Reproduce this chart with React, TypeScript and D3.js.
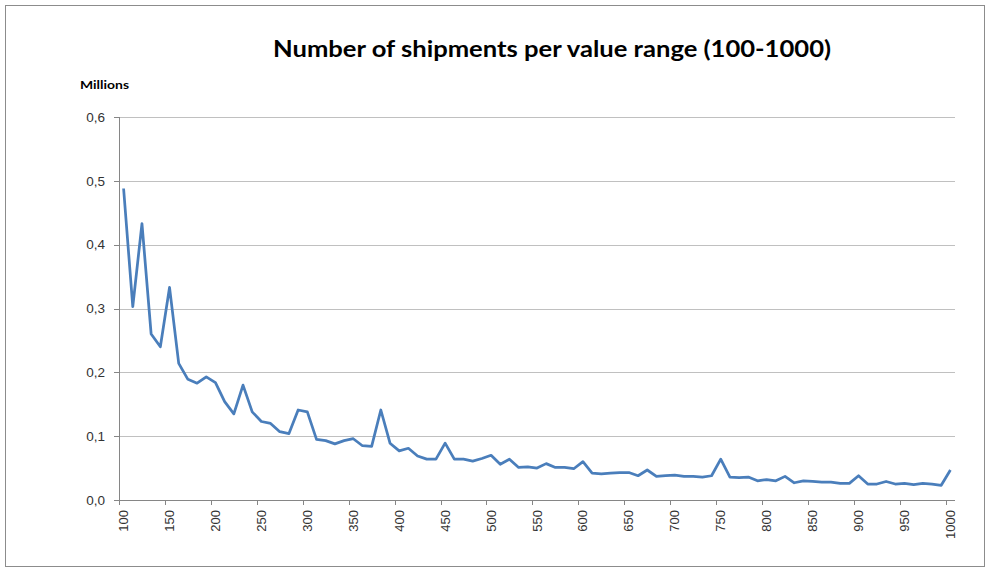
import React from "react";
import * as d3 from "d3";

const categories: string[] = [
  "100","110","120","130","140","150","160","170","180","190",
  "200","210","220","230","240","250","260","270","280","290",
  "300","310","320","330","340","350","360","370","380","390",
  "400","410","420","430","440","450","460","470","480","490",
  "500","510","520","530","540","550","560","570","580","590",
  "600","610","620","630","640","650","660","670","680","690",
  "700","710","720","730","740","750","760","770","780","790",
  "800","810","820","830","840","850","860","870","880","890",
  "900","910","920","930","940","950","960","970","980","990",
  "1000",
];

const shipments: number[] = [
  0.488, 0.303, 0.433, 0.260, 0.240, 0.333, 0.214, 0.189, 0.183, 0.193,
  0.184, 0.154, 0.135, 0.180, 0.138, 0.123, 0.120, 0.107, 0.104, 0.141,
  0.138, 0.095, 0.093, 0.088, 0.093, 0.096, 0.085, 0.084, 0.141, 0.089,
  0.077, 0.081, 0.069, 0.064, 0.064, 0.089, 0.064, 0.064, 0.061, 0.065,
  0.070, 0.056, 0.064, 0.051, 0.052, 0.050, 0.057, 0.051, 0.051, 0.049,
  0.060, 0.042, 0.041, 0.042, 0.043, 0.043, 0.038, 0.047, 0.037, 0.038,
  0.039, 0.037, 0.037, 0.036, 0.038, 0.064, 0.036, 0.035, 0.036, 0.030,
  0.032, 0.030, 0.037, 0.027, 0.030, 0.029, 0.028, 0.028, 0.026, 0.026,
  0.038, 0.025, 0.025, 0.029, 0.025, 0.026, 0.024, 0.026, 0.025, 0.023,
  0.047,
];

const xLabels: string[] = categories.filter((_, i) => i % 5 === 0);
const yTicks: number[] = [0, 0.1, 0.2, 0.3, 0.4, 0.5, 0.6];
const title = "Number of shipments per value range (100-1000)";
const unitLabel = "Millions";

const W = 987;
const H = 570;
const left = 119;
const right = 955;
const top = 117;
const bottom = 500;
const FONT = "'Liberation Sans', Arial, sans-serif";

export default function App() {
  const x = d3.scaleBand<string>().domain(categories).range([left, right]).paddingInner(0).paddingOuter(0);
  const y = d3.scaleLinear().domain([0, 0.6]).range([bottom, top]);
  const cx = (c: string) => (x(c) as number) + x.bandwidth() / 2;
  const line = d3
    .line<number>()
    .x((_, i) => cx(categories[i]))
    .y((d) => y(d));
  const fmt = (v: number) => d3.format(".1f")(v).replace(".", ",");
  const tickCats = categories.filter((_, i) => i % 5 === 0);

  return (
    <svg
      width={W}
      height={H}
      style={{ position: "absolute", left: 0, top: 0, background: "#fff" }}
    >
      <rect x={0} y={0} width={W} height={H} fill="#fff" />
      <rect x={5.5} y={5.5} width={979} height={561} fill="none" stroke="#8c8c8c" strokeWidth={1} />
      <text
        x={552}
        y={57}
        textAnchor="middle"
        fontFamily="Lato, 'Open Sans', sans-serif"
        fontWeight="bold"
        fontSize={23}
        fill="#000"
        textLength={558}
        lengthAdjust="spacingAndGlyphs"
      >
        {title}
      </text>
      <text
        x={80}
        y={89}
        fontFamily="Lato, 'Open Sans', sans-serif"
        fontWeight="bold"
        fontSize={11}
        fill="#000"
        textLength={49}
        lengthAdjust="spacingAndGlyphs"
      >
        {unitLabel}
      </text>
      {yTicks.map((t) => (
        <g key={"y" + t}>
          {t > 0 && (
            <line x1={left} x2={right} y1={Math.round(y(t)) + 0.5} y2={Math.round(y(t)) + 0.5} stroke="#c0c0c0" strokeWidth={1} />
          )}
          <line x1={left - 5} x2={left} y1={Math.round(y(t)) + 0.5} y2={Math.round(y(t)) + 0.5} stroke="#868686" strokeWidth={1} />
          <text
            x={105}
            y={y(t)}
            dy="0.35em"
            textAnchor="end"
            fontFamily={FONT}
            fontSize={13.5}
            fill="#333"
          >
            {fmt(t)}
          </text>
        </g>
      ))}
      <line x1={left + 0.5} x2={left + 0.5} y1={top} y2={bottom} stroke="#868686" strokeWidth={1} />
      <line x1={left} x2={right} y1={bottom + 0.5} y2={bottom + 0.5} stroke="#868686" strokeWidth={1} />
      {tickCats.map((c) => (
        <line
          key={"xt" + c}
          x1={Math.round(x(c) as number) + 0.5}
          x2={Math.round(x(c) as number) + 0.5}
          y1={bottom}
          y2={bottom + 5}
          stroke="#868686"
          strokeWidth={1}
        />
      ))}
      {xLabels.map((c) => (
        <text
          key={"xl" + c}
          transform={`translate(${cx(c)},${bottom + 10}) rotate(-90)`}
          textAnchor="end"
          dy="0.35em"
          fontFamily={FONT}
          fontSize={13}
          fill="#333"
        >
          {c}
        </text>
      ))}
      <path
        d={line(shipments) || ""}
        fill="none"
        stroke="#4a7ebb"
        strokeWidth={2.75}
        strokeLinejoin="round"
      />
    </svg>
  );
}
